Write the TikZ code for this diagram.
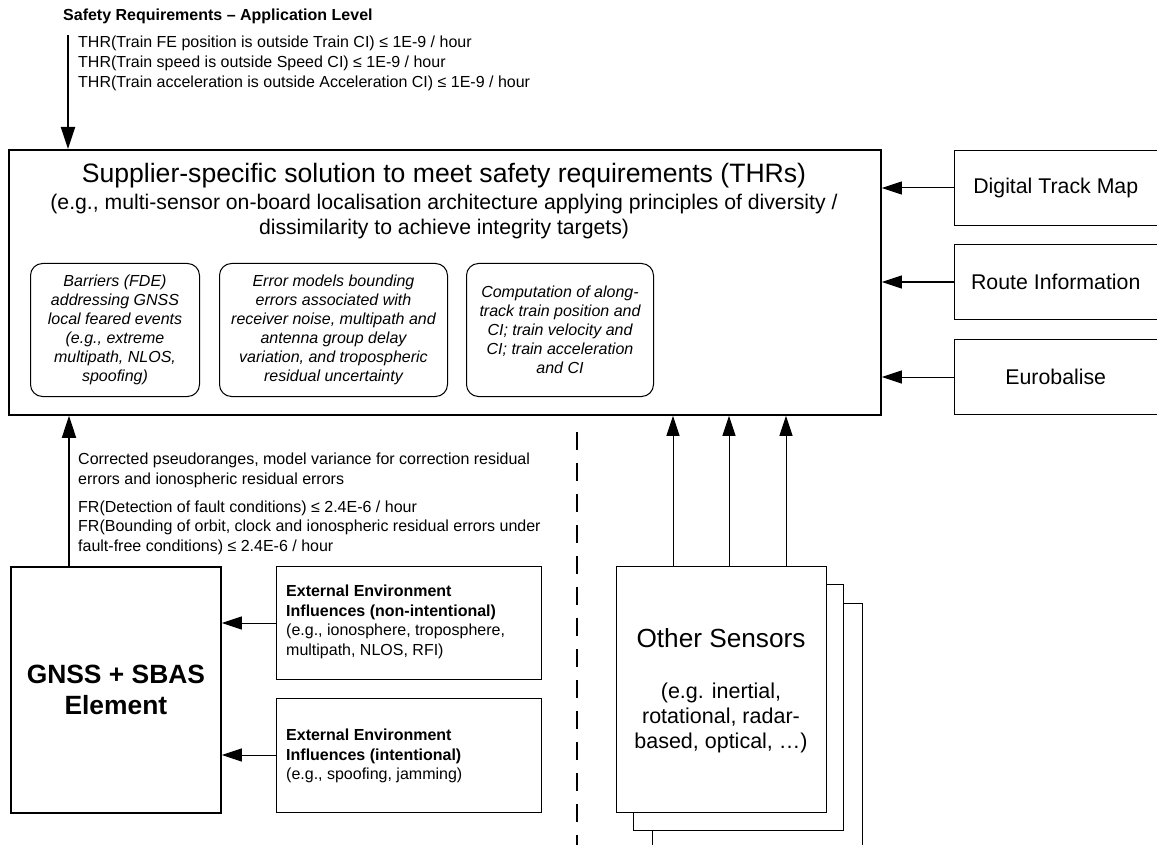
\documentclass[tikz,border=0pt]{standalone}
\usepackage{fontspec}
\setmainfont{Liberation Sans}
\usetikzlibrary{arrows.meta,calc}
\newcommand\fsz[2]{\fontsize{#1}{#2}\selectfont}
\begin{document}
\begin{tikzpicture}[x=1pt,y=-1pt,
  heavybox/.style={draw,line width=1.8pt,inner sep=0pt,anchor=north west},
  lightbox/.style={draw,line width=1pt,inner sep=0pt,anchor=north west},
  roundbox/.style={draw,line width=1pt,rounded corners=12pt,inner sep=0pt,anchor=north west,
    align=center,font=\itshape\fsz{16}{19}},
  smalltext/.style={inner sep=0pt,align=left,font=\fsz{16}{19.5}},
  arr/.style={-{Triangle[length=20pt,width=13pt]},line width=1pt},
  heavyarr/.style={-{Triangle[length=22pt,width=14pt]},line width=1.8pt}]
\useasboundingbox (0,0) rectangle (1157,845);
\clip (0,0) rectangle (1157,845);

% requirements allocated from the application level
\node[anchor=west,inner sep=0pt,font=\bfseries\fsz{16}{19}] (safety) at (63,16)
  {Safety Requirements -- Application Level};
\node[smalltext,anchor=west,font=\fsz{16}{20}] (thr) at (78,63)
  {THR(Train FE position is outside Train CI) ≤ 1E-9 / hour\\
   THR(Train speed is outside Speed CI) ≤ 1E-9 / hour\\
   THR(Train acceleration is outside Acceleration CI) ≤ 1E-9 / hour};

% supplier-specific on-board solution
\node[heavybox,minimum width=872,minimum height=265] (main) at (8,149) {};
\node[inner sep=0pt,font=\fsz{26.6}{30}] (title) at (444,176)
  {Supplier-specific solution to meet safety requirements (THRs)};
\node[inner sep=0pt,align=center,font=\fsz{21.2}{25}] (subtitle) at (444,217)
  {(e.g., multi-sensor on-board localisation architecture applying principles of diversity /\\
   dissimilarity to achieve integrity targets)};

\node[roundbox,minimum width=169,minimum height=133] (fde) at (30,263)
  {Barriers (FDE)\\addressing GNSS\\local feared events\\(e.g., extreme\\multipath, NLOS,\\spoofing)};
\node[roundbox,minimum width=228,minimum height=133] (errmod) at (219,263)
  {Error models bounding\\errors associated with\\receiver noise, multipath and\\antenna group delay\\variation, and tropospheric\\residual uncertainty};
\node[roundbox,minimum width=187,minimum height=133] (comp) at (466,263)
  {Computation of along-\\track train position and\\CI; train velocity and\\CI; train acceleration\\and CI};

% additional inputs on the right
\node[lightbox,minimum width=202.5,minimum height=75,font=\fsz{21.3}{25}] (dtm) at (954,150) {Digital Track Map};
\node[lightbox,minimum width=202.5,minimum height=75,font=\fsz{21.3}{25}] (route) at (954,244) {Route Information};
\node[lightbox,minimum width=202.5,minimum height=75,font=\fsz{21.3}{25}] (euro) at (954,339) {Eurobalise};

% GNSS + SBAS element and its environment
\node[heavybox,minimum width=210,minimum height=246,align=center,font=\bfseries\fsz{26.4}{31}] (gnss) at (10,566)
  {GNSS + SBAS\\Element};
\node[lightbox,minimum width=265,minimum height=113] (ext1) at (276,566) {};
\node[smalltext,anchor=west] (ext1t) at (286,622)
  {\textbf{External Environment}\\\textbf{Influences (non-intentional)}\\(e.g., ionosphere, troposphere,\\multipath, NLOS, RFI)};
\node[lightbox,minimum width=265,minimum height=114] (ext2) at (276,698) {};
\node[smalltext,anchor=west] (ext2t) at (286,756)
  {\textbf{External Environment}\\\textbf{Influences (intentional)}\\(e.g., spoofing, jamming)};

\node[smalltext,anchor=west] (corr) at (78,470.5)
  {Corrected pseudoranges, model variance for correction residual\\errors and ionospheric residual errors};
\node[smalltext,anchor=west] (fr) at (78,527.5)
  {FR(Detection of fault conditions) ≤ 2.4E-6 / hour\\
   FR(Bounding of orbit, clock and ionospheric residual errors under\\
   fault-free conditions) ≤ 2.4E-6 / hour};

% other sensors (stacked)
\node[lightbox,fill=white,minimum width=210,minimum height=246] (os3) at (652,603) {};
\node[lightbox,fill=white,minimum width=210,minimum height=246] (os2) at (633,584) {};
\node[lightbox,fill=white,minimum width=210,minimum height=246] (os) at (616,566) {};
\node[inner sep=0pt,font=\fsz{26.2}{30}] (ostitle) at (721,638) {Other Sensors};
\node[inner sep=0pt,align=center,font=\fsz{21.5}{25}] (osdesc) at (721,718)
  {(e.g. inertial,\\rotational, radar-\\based, optical, …)};

% separator
\coordinate (septop) at (577,432);
\coordinate (sepbot) at (577,845);
\draw[line width=1.2pt,dash pattern=on 18pt off 13pt] (septop) -- (sepbot);

% connectors
\coordinate (reqin) at (68,35);
\draw[heavyarr] (reqin) -- (reqin |- main.north);
\coordinate (gnssout) at ([xshift=59pt]gnss.north west);
\draw[heavyarr] (gnssout) -- (gnssout |- main.south);
\draw[arr] (ext1.west |- 0,623) -- (gnss.east |- 0,623);
\draw[arr] (ext2.west |- 0,755) -- (gnss.east |- 0,755);
\draw[arr] (dtm.west) -- (dtm.west -| main.east);
\draw[arr] (route.west) -- (route.west -| main.east);
\draw[arr] (euro.west) -- (euro.west -| main.east);
\foreach \dx [count=\i] in {57,113,170} {
  \coordinate (osout\i) at ([xshift=\dx pt]os.north west);
  \draw[arr] (osout\i) -- (osout\i |- main.south);
}
\end{tikzpicture}
\end{document}
